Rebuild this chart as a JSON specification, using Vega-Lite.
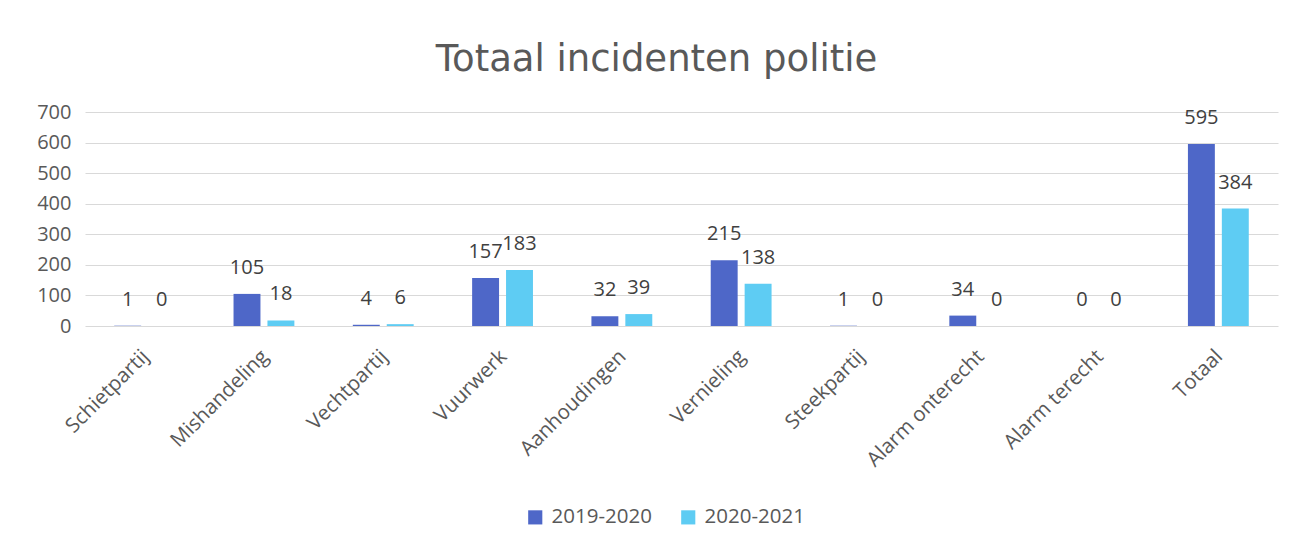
{
  "$schema": "https://vega.github.io/schema/vega-lite/v6.json",
  "width": 1193,
  "height": 214,
  "padding": {"left": 36, "top": 41, "right": 17, "bottom": 5},
  "background": "white",
  "title": {"text": "Totaal incidenten politie", "font": "DejaVu Sans", "fontSize": 37, "fontWeight": "normal", "color": "#595959", "offset": 23, "anchor": "middle", "dx": -25},
  "config": {"view": {"stroke": null}, "font": "Open Sans"},
  "data": {"values": [
    {"cat": "Schietpartij", "season": "2019-2020", "value": 1},
    {"cat": "Schietpartij", "season": "2020-2021", "value": 0},
    {"cat": "Mishandeling", "season": "2019-2020", "value": 105},
    {"cat": "Mishandeling", "season": "2020-2021", "value": 18},
    {"cat": "Vechtpartij", "season": "2019-2020", "value": 4},
    {"cat": "Vechtpartij", "season": "2020-2021", "value": 6},
    {"cat": "Vuurwerk", "season": "2019-2020", "value": 157},
    {"cat": "Vuurwerk", "season": "2020-2021", "value": 183},
    {"cat": "Aanhoudingen", "season": "2019-2020", "value": 32},
    {"cat": "Aanhoudingen", "season": "2020-2021", "value": 39},
    {"cat": "Vernieling", "season": "2019-2020", "value": 215},
    {"cat": "Vernieling", "season": "2020-2021", "value": 138},
    {"cat": "Steekpartij", "season": "2019-2020", "value": 1},
    {"cat": "Steekpartij", "season": "2020-2021", "value": 0},
    {"cat": "Alarm onterecht", "season": "2019-2020", "value": 34},
    {"cat": "Alarm onterecht", "season": "2020-2021", "value": 0},
    {"cat": "Alarm terecht", "season": "2019-2020", "value": 0},
    {"cat": "Alarm terecht", "season": "2020-2021", "value": 0},
    {"cat": "Totaal", "season": "2019-2020", "value": 595},
    {"cat": "Totaal", "season": "2020-2021", "value": 384}
  ]},
  "encoding": {
    "x": {"field": "cat", "type": "nominal", "sort": null,
      "scale": {"paddingInner": 0.49, "paddingOuter": 0.245},
      "axis": {"title": null, "labelAngle": -45, "labelFontSize": 20.5, "labelColor": "#595959", "domain": false, "ticks": false, "labelPadding": 20, "labelOffset": -6, "labelFont": "Open Sans"}},
    "xOffset": {"field": "season", "type": "nominal", "scale": {"paddingInner": 0.206, "paddingOuter": 0}},
    "y": {"field": "value", "type": "quantitative",
      "scale": {"domain": [0, 700]},
      "axis": {"title": null, "values": [0,100,200,300,400,500,600,700], "labelOverlap": false, "labelFontSize": 20, "labelColor": "#595959", "domain": false, "ticks": false, "gridColor": "#d9d9d9", "gridWidth": 1.2, "labelPadding": 14}}
  },
  "layer": [
    {"mark": {"type": "bar"},
     "encoding": {
       "color": {"field": "season", "type": "nominal",
         "scale": {"domain": ["2019-2020", "2020-2021"], "range": ["#4E67C8", "#5ECCF3"]},
         "legend": {"title": null, "orient": "none", "legendX": 440, "legendY": 395, "direction": "horizontal", "symbolType": "square", "symbolSize": 200, "symbolStrokeWidth": 0, "labelFontSize": 20.5, "labelColor": "#595959", "columnPadding": 26, "labelOffset": 6}}
     }},
    {"mark": {"type": "text", "baseline": "bottom", "dy": -16, "fontSize": 20, "color": "#404040"},
     "encoding": {"text": {"field": "value", "type": "quantitative"}}}
  ]
}
